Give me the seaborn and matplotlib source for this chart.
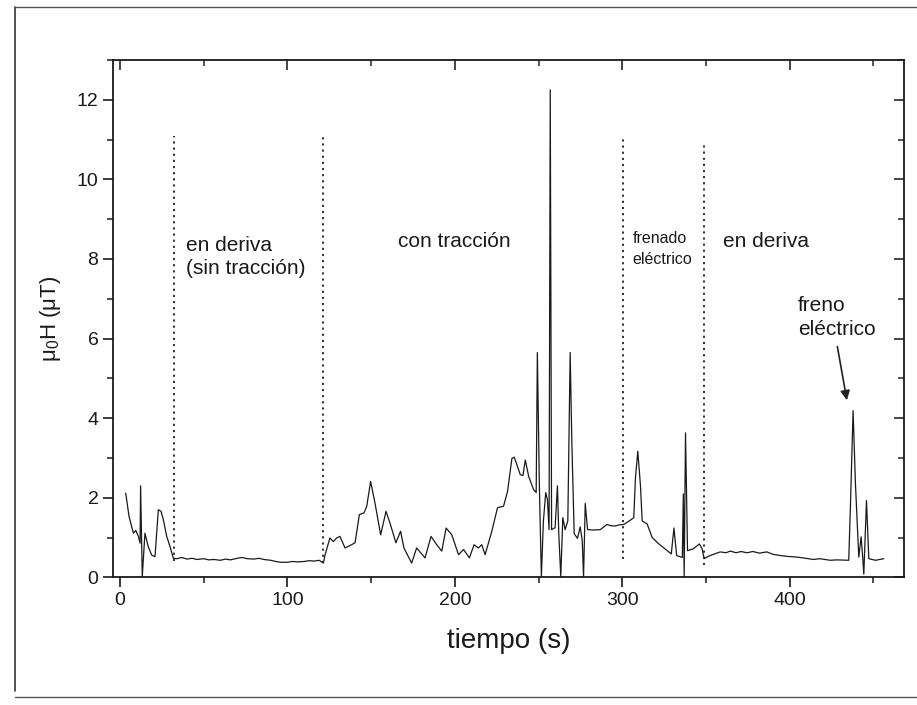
import matplotlib
matplotlib.use("Agg")
import matplotlib.pyplot as plt
import seaborn as sns
import pandas as pd
from matplotlib.lines import Line2D
from matplotlib.ticker import MultipleLocator

# ---- data ----
tiempo = [3.4, 5.4, 8.0, 9.4, 11.0, 12.0, 12.3, 13.3, 14.9, 16.9, 18.9, 20.9, 21.9, 22.9, 24.5,
          25.9, 27.9, 29.9, 31.9,
          34, 37, 40, 43, 46, 50, 53, 56, 60, 63, 66, 70, 73, 76, 80, 83, 86, 90, 93, 96, 100,
          103, 106, 110, 113, 116, 119, 121.5,
          122.5, 125.4, 127.4, 129.4, 131.4, 134.4, 137.4, 140.4, 143, 145.8, 147.4, 149.7, 152.3,
          155.7, 158.9, 161.3, 164.8, 167.6, 169.6, 174.2, 177.2, 182.2, 185.8, 189.2, 192.2,
          194.8, 198.2, 202.2, 205.2, 208.7, 211.5, 214.1, 216.1, 218.1, 222.1, 225.5, 229.1,
          231.5, 234.1, 235.5, 239.1, 240.7, 242.1, 244.1, 247, 248.6, 249.3, 250.5, 251.7,
          252.9, 254.3, 255.3, 256.3, 257.0, 257.8, 259.9, 261.3, 262.1, 263.3, 264.5, 265.9,
          267.5, 268.9, 269.9, 271.3, 273.3, 274.9, 276.1, 276.9, 277.9, 279.3, 282.9, 286.9,
          290.9, 293, 295.9, 298, 300.9, 303.9, 306.9, 307.9, 309.3, 310.9, 311.9, 314.9, 317.9,
          321.9, 326.9, 329.3, 330.9, 332.5, 335.9, 336.5, 337.0, 337.8, 339.0, 342.5, 346.1,
          347.7, 348.9, 352.5, 358.5, 362, 364.5, 368, 371, 374.5, 378, 382, 386.4, 390, 394.4,
          398, 404.4, 408, 414.3, 418, 424.3, 428, 435.3, 436.3, 437.9, 439.3, 441.3, 442.7,
          443.7, 444.3, 445.9, 447.3, 451.3, 456.2]
campo = [2.12, 1.53, 1.11, 1.18, 1.03, 0.86, 2.30, 0.02, 1.11, 0.77, 0.56, 0.52, 1.11, 1.70, 1.66,
         1.45, 1.03, 0.77, 0.48,
         0.47, 0.50, 0.46, 0.48, 0.45, 0.47, 0.44, 0.45, 0.43, 0.46, 0.44, 0.48, 0.50, 0.47, 0.46,
         0.48, 0.45, 0.43, 0.40, 0.38, 0.38, 0.40, 0.39, 0.40, 0.42, 0.41, 0.43, 0.36,
         0.57, 0.99, 0.90, 0.99, 1.03, 0.74, 0.80, 0.87, 1.58, 1.62, 1.79, 2.41, 1.87,
         1.07, 1.66, 1.36, 0.87, 1.16, 0.74, 0.36, 0.74, 0.49, 1.03, 0.82, 0.66,
         1.24, 1.07, 0.57, 0.70, 0.49, 0.82, 0.74, 0.82, 0.57, 1.16, 1.75, 1.79,
         2.16, 2.99, 3.02, 2.58, 2.56, 2.95, 2.54, 2.21, 2.13, 5.65, 2.30, 0.02,
         1.41, 2.13, 1.96, 1.20, 12.25, 1.20, 1.25, 2.30, 1.10, 0.02, 1.50, 1.20,
         1.42, 5.65, 3.40, 1.10, 0.98, 1.27, 0.93, 0.02, 1.86, 1.20, 1.19, 1.20,
         1.33, 1.30, 1.29, 1.32, 1.33, 1.41, 1.50, 2.50, 3.17, 2.30, 1.42, 1.34, 1.00,
         0.84, 0.67, 0.59, 1.24, 0.55, 0.50, 2.10, 0.02, 3.63, 0.67, 0.72, 0.84,
         0.72, 0.47, 0.55, 0.64, 0.62, 0.66, 0.62, 0.65, 0.62, 0.65, 0.61, 0.64, 0.58, 0.55,
         0.53, 0.51, 0.49, 0.45, 0.47, 0.43, 0.44, 0.43, 1.77, 4.19, 2.36, 0.51, 1.02,
         0.47, 0.08, 1.93, 0.47, 0.43, 0.47]

limites = [32.5, 121.5, 300.7, 348.9]
limites_top = [11.1, 11.1, 11.05, 10.9]
limites_bottom = [0.42, 0.35, 0.47, 0.30]

etiquetas = ["en deriva\n(sin tracción)", "con tracción", "frenado\neléctrico", "en deriva"]
etiquetas_x = [39.6, 166, 306, 360]
etiquetas_y = [8.05, 8.45, 8.25, 8.45]

x_ticks = [0, 100, 200, 300, 400]
y_ticks = [0, 2, 4, 6, 8, 10, 12]

# ---- plotting ----
sns.set_style("ticks")
plt.rcParams['font.family'] = ['Liberation Sans', 'DejaVu Sans']
plt.rcParams['mathtext.fontset'] = 'custom'
plt.rcParams['mathtext.rm'] = 'Liberation Sans'
plt.rcParams['mathtext.it'] = 'Liberation Sans'

fig = plt.figure(figsize=(9.17, 7.05), dpi=100)
ax = fig.add_axes([0.1232, 0.181, 0.8626, 0.734])

df = pd.DataFrame({"tiempo": tiempo, "campo": campo})
sns.lineplot(data=df, x="tiempo", y="campo", ax=ax, color="#1a1a1a", lw=0.9,
             sort=False, estimator=None)

for xv, yt, yb in zip(limites, limites_top, limites_bottom):
    ax.plot([xv, xv], [yb, yt], linestyle=(0, (1.2, 2.2)), color="#222222", lw=1.3)

ax.text(etiquetas_x[0], etiquetas_y[0], etiquetas[0], fontsize=15, va="center", ha="left",
        linespacing=1.25, color="#1a1a1a")
ax.text(etiquetas_x[1], etiquetas_y[1], etiquetas[1], fontsize=15, va="center", ha="left",
        color="#1a1a1a")
ax.text(etiquetas_x[2], etiquetas_y[2], etiquetas[2], fontsize=11.5, va="center", ha="left",
        linespacing=1.45, color="#1a1a1a")
ax.text(etiquetas_x[3], etiquetas_y[3], etiquetas[3], fontsize=15, va="center", ha="left",
        color="#1a1a1a")

ax.text(405, 6.52, "freno\neléctrico", fontsize=15, va="center", ha="left",
        linespacing=1.35, color="#1a1a1a")
ax.annotate("", xy=(434.2, 4.45), xytext=(428.5, 5.8),
            arrowprops=dict(arrowstyle="-|>", color="#222222", lw=1.2,
                            mutation_scale=14, shrinkA=0, shrinkB=0))

ax.set_xlim(-4.2, 468.3)
ax.set_ylim(0, 13.0)
ax.set_xticks(x_ticks)
ax.set_yticks(y_ticks)
ax.xaxis.set_minor_locator(MultipleLocator(50))
ax.yaxis.set_minor_locator(MultipleLocator(1))
ax.tick_params(axis="both", which="major", direction="out", length=7, width=1.2,
               labelsize=14, colors="#1a1a1a")
ax.tick_params(axis="both", which="minor", direction="out", length=4, width=1.1,
               colors="#1a1a1a")

secx = ax.secondary_xaxis("top")
secx.set_xticks(x_ticks)
secx.xaxis.set_minor_locator(MultipleLocator(50))
secx.tick_params(axis="x", which="major", direction="in", length=7, width=1.2, labeltop=False)
secx.tick_params(axis="x", which="minor", direction="in", length=4, width=1.1)
secy = ax.secondary_yaxis("right")
secy.set_yticks(y_ticks)
secy.yaxis.set_minor_locator(MultipleLocator(1))
secy.tick_params(axis="y", which="major", direction="in", length=7, width=1.2, labelright=False)
secy.tick_params(axis="y", which="minor", direction="in", length=4, width=1.1)
for s in list(secx.spines.values()) + list(secy.spines.values()):
    s.set_visible(False)

for s in ax.spines.values():
    s.set_visible(True)
    s.set_linewidth(1.3)
    s.set_color("#1a1a1a")

ax.set_xlabel("tiempo (s)", fontsize=20, labelpad=14, color="#1a1a1a")
ax.set_ylabel("μ$_0$H (μT)", fontsize=16, labelpad=10, color="#1a1a1a")

# scanned page frame
fig.add_artist(Line2D([0.016, 0.016], [0.02, 0.99], transform=fig.transFigure,
                      color="#333333", lw=1.2))
fig.add_artist(Line2D([0.016, 1.0], [0.99, 0.99], transform=fig.transFigure,
                      color="#555555", lw=1.0))
fig.add_artist(Line2D([0.016, 1.0], [0.012, 0.012], transform=fig.transFigure,
                      color="#555555", lw=1.0))

fig.savefig("out.png", dpi=100)
